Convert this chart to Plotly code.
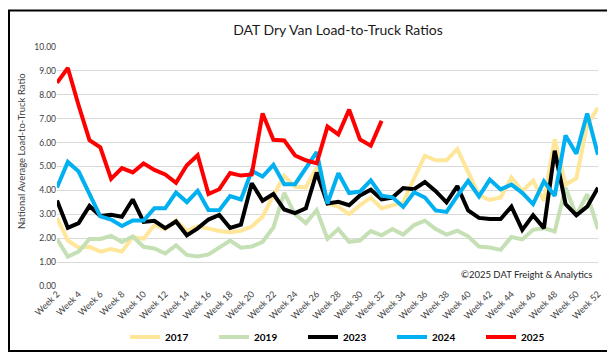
import plotly.graph_objects as go

weeks = list(range(2, 53))
tick_weeks = list(range(2, 53, 2))
tick_labels = [f"Week {w}" for w in tick_weeks]

y2017 = [2.85, 1.91, 1.6, 1.64, 1.44, 1.55, 1.44, 2.05, 1.97, 2.55,
         2.38, 2.74, 2.3, 2.5, 2.4, 2.3, 2.25, 2.31, 2.49, 2.9,
         3.8, 4.6, 4.15, 4.12, 4.95, 3.45, 3.32, 3.0, 3.38, 3.7,
         3.25, 3.36, 3.5, 4.5, 5.45, 5.26, 5.26, 5.73, 4.78, 3.8,
         3.6, 3.7, 4.54, 3.97, 4.4, 3.57, 6.14, 4.24, 4.51, 6.74, 7.46]
y2019 = [1.97, 1.23, 1.44, 1.97, 1.97, 2.1, 1.84, 2.07, 1.64, 1.57,
         1.36, 1.7, 1.3, 1.24, 1.32, 1.62, 1.9, 1.6, 1.65, 1.85,
         2.45, 3.9, 3.0, 2.63, 3.17, 1.97, 2.38, 1.85, 1.9, 2.3,
         2.12, 2.38, 2.15, 2.55, 2.73, 2.38, 2.15, 2.31, 2.08, 1.65,
         1.61, 1.51, 2.05, 1.95, 2.35, 2.42, 2.28, 4.11, 2.96, 3.84, 2.38]
y2023 = [3.58, 2.43, 2.63, 3.35, 2.93, 2.98, 2.9, 3.62, 2.68, 2.73,
         2.42, 2.7, 2.12, 2.41, 2.78, 2.97, 2.43, 2.57, 4.3, 3.57,
         3.85, 3.2, 3.05, 3.25, 4.75, 3.45, 3.52, 3.38, 3.79, 4.03,
         3.62, 3.7, 4.1, 4.05, 4.35, 3.97, 3.5, 4.18, 3.16, 2.85,
         2.8, 2.8, 3.32, 2.35, 2.96, 2.42, 5.66, 3.43, 2.96, 3.32, 4.11]
y2024 = [4.12, 5.19, 4.79, 3.85, 2.91, 2.78, 2.51, 2.74, 2.74, 3.25,
         3.25, 3.91, 3.51, 3.98, 3.18, 3.17, 3.76, 3.62, 4.82, 4.58,
         5.07, 4.26, 4.26, 4.93, 5.6, 3.45, 4.72, 3.89, 3.95, 4.42,
         3.78, 3.71, 3.31, 3.92, 3.7, 3.16, 3.1, 3.77, 4.4, 3.75,
         4.45, 4.04, 4.24, 3.9, 3.43, 4.38, 3.77, 6.3, 5.53, 7.22, 5.49]
y2025 = [8.5, 9.12, 7.55, 6.1, 5.8, 4.48, 4.93, 4.75, 5.13, 4.86,
         4.67, 4.32, 5.05, 5.47, 3.85, 4.05, 4.73, 4.62, 4.67, 7.22,
         6.12, 6.09, 5.46, 5.26, 5.13, 6.67, 6.34, 7.38, 6.13, 5.87, 6.91]

series = [
    ("2017", y2017, "#FFE699"),
    ("2019", y2019, "#C5E0B4"),
    ("2023", y2023, "#000000"),
    ("2024", y2024, "#00B0F0"),
    ("2025", y2025, "#FF0000"),
]

FONT = "Lato"
fig = go.Figure()
for name, ys, color in series:
    fig.add_trace(go.Scatter(
        x=weeks[:len(ys)], y=ys, name=name, mode="lines",
        line=dict(color=color, width=4, shape="linear"),
    ))

# plot area: x 49..590 px, y 39..287 px
L, R, T, B = 49, 590, 39, 287
W, H = 615, 356
pw, ph = R - L, B - T

def px_x(px):
    return (px - L) / pw

def px_y(py):
    return (B - py) / ph

fig.update_layout(
    width=W, height=H,
    margin=dict(l=L, r=W - R, t=T, b=H - B, pad=0),
    paper_bgcolor="white", plot_bgcolor="white",
    font=dict(family=FONT, color="#404040"),
    title=dict(text="DAT Dry Van Load-to-Truck Ratios", x=330 / W, xanchor="center",
               y=1 - 22 / H, yanchor="middle", xref="container", yref="container",
               font=dict(family=FONT, size=14, color="#1a1a1a")),
    showlegend=True,
    legend=dict(orientation="h", x=px_x(117), xanchor="left", y=px_y(340), yanchor="middle",
                font=dict(family=FONT, size=10, color="#000000", weight="bold"),
                itemwidth=30, entrywidth=44, entrywidthmode="pixels",
                bgcolor="rgba(0,0,0,0)", tracegroupgap=0),
    xaxis=dict(range=[2, 52], tickmode="array", tickvals=tick_weeks, ticktext=tick_labels,
               tickangle=-45, showgrid=False, zeroline=False, showline=False,
               ticks="", tickfont=dict(family=FONT, size=9, color="#404040"),
               fixedrange=True),
    yaxis=dict(range=[0, 10], dtick=1, tickformat=".2f", showgrid=True,
               gridcolor="#D9D9D9", gridwidth=1, zeroline=False, showline=False,
               ticks="", tickfont=dict(family=FONT, size=8.5, color="#404040"),
               fixedrange=True),
    annotations=[
        dict(text="©2025 DAT Freight & Analytics", x=px_x(586), y=px_y(275),
             xref="paper", yref="paper", xanchor="right", yanchor="middle",
             showarrow=False, font=dict(family=FONT, size=9.5, color="#262626")),
        dict(text="National Average Load-to-Truck Ratio", x=px_x(13), y=px_y(147),
             xref="paper", yref="paper", xanchor="center", yanchor="middle",
             textangle=-90, showarrow=False,
             font=dict(family=FONT, size=9.5, color="#404040")),
    ],
    shapes=[dict(type="rect", xref="paper", yref="paper",
                 x0=px_x(1), x1=px_x(613.5), y0=px_y(354.5), y1=px_y(1),
                 line=dict(color="#000000", width=2), fillcolor="rgba(0,0,0,0)", layer="above")],
)

fig.write_html("out.html")
